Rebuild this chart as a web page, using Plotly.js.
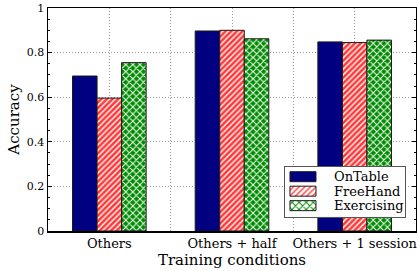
<!DOCTYPE html>
<html>
<head>
<meta charset="utf-8">
<script src="https://cdn.plot.ly/plotly-3.0.1.min.js"></script>
<style>html,body{margin:0;padding:0;background:#fff;overflow:hidden;}</style>
</head>
<body>
<div id="chart" style="width:417px;height:271px;"></div>
<script>
const categories = ["Others", "Others + half", "Others + 1 session"];
const seriesNames = ["OnTable", "FreeHand", "Exercising"];
const onTable = [0.695, 0.897, 0.848];
const freeHand = [0.596, 0.900, 0.845];
const exercising = [0.755, 0.862, 0.856];
const yTickVals = [0, 0.2, 0.4, 0.6, 0.8, 1];
const yTickText = ["0", "0.2", "0.4", "0.6", "0.8", "1"];

const xPos = categories.map((c, i) => i);
const font = "DejaVu Serif";
const edge = {color: "#1a1a1a", width: 1};

const colors = ["#000080", "#ff3838", "#008c00"];
const patterns = [
  {shape: ""},
  {shape: "/", fgcolor: "#ffffff", bgcolor: colors[1], size: 4, solidity: 0.35},
  {shape: "x", fgcolor: "#ffffff", bgcolor: colors[2], size: 5, solidity: 0.35}
];
const seriesValues = [onTable, freeHand, exercising];

const traces = seriesValues.map((vals, i) => ({
  type: "bar", name: seriesNames[i], x: xPos, y: vals,
  xaxis: "x", yaxis: "y",
  marker: {color: colors[i], line: edge, pattern: patterns[i]}
}));

// custom legend drawn in an inset subplot (patterned swatches)
traces.push({
  type: "bar", orientation: "h", xaxis: "x2", yaxis: "y2",
  y: seriesNames, x: seriesNames.map(() => 1), width: 0.69,
  hoverinfo: "skip",
  marker: {
    color: colors, line: edge,
    pattern: {
      shape: patterns.map(p => p.shape),
      fgcolor: ["#ffffff", "#ffffff", "#ffffff"],
      bgcolor: colors,
      size: [4, 4, 5],
      solidity: [0.35, 0.35, 0.35]
    }
  }
});

const annotations = seriesNames.map(n => ({
  xref: "x2", yref: "y2", x: 1.62, y: n, text: n, showarrow: false,
  xanchor: "left", yanchor: "middle",
  font: {family: font, size: 13, color: "#000"}
}));

const gridStyle = {gridcolor: "#9a9a9a", griddash: "1px,2px", gridwidth: 1};

const layout = {
  width: 417, height: 271,
  margin: {l: 48, r: 1, t: 8, b: 40},
  paper_bgcolor: "#fff", plot_bgcolor: "#fff",
  font: {family: font, color: "#000", size: 11},
  barmode: "group", bargap: 0.4, bargroupgap: 0,
  showlegend: false,
  annotations: annotations,
  xaxis: Object.assign({
    range: [-0.5, 2.5], tickmode: "array", tickvals: xPos, ticktext: categories,
    showline: true, linecolor: "#000", linewidth: 1.5, mirror: true,
    ticks: "", showgrid: true, zeroline: false,
    ticklabeloverflow: "allow",
    tickfont: {family: font, size: 13},
    minor: Object.assign({tickmode: "linear", tick0: -0.5, dtick: 0.5, showgrid: true, ticks: ""}, gridStyle),
    title: {text: "Training conditions", font: {family: font, size: 15}, standoff: 4}
  }, gridStyle),
  yaxis: Object.assign({
    range: [0, 1], tickmode: "array", tickvals: yTickVals, ticktext: yTickText,
    showline: true, linecolor: "#000", linewidth: 1.5, mirror: "ticks",
    ticks: "inside", ticklen: 4, tickcolor: "#000",
    showgrid: true, zeroline: false,
    tickfont: {family: font, size: 11},
    minor: {tickmode: "linear", tick0: 0, dtick: 0.05, ticks: "inside", ticklen: 2, tickcolor: "#000", showgrid: false},
    title: {text: "Accuracy", font: {family: font, size: 15}, standoff: 3}
  }, gridStyle),
  xaxis2: {
    domain: [0.644, 0.970], anchor: "y2", range: [-0.192, 4.423],
    showline: true, mirror: true, linecolor: "#555", linewidth: 1,
    showgrid: false, zeroline: false, showticklabels: false, ticks: ""
  },
  yaxis2: {
    domain: [0.063, 0.287], anchor: "x2", range: [2.78, -0.67],
    showline: true, mirror: true, linecolor: "#555", linewidth: 1,
    showgrid: false, zeroline: false, showticklabels: false, ticks: ""
  }
};

Plotly.newPlot("chart", traces, layout, {displayModeBar: false, staticPlot: true});
</script>
</body>
</html>
